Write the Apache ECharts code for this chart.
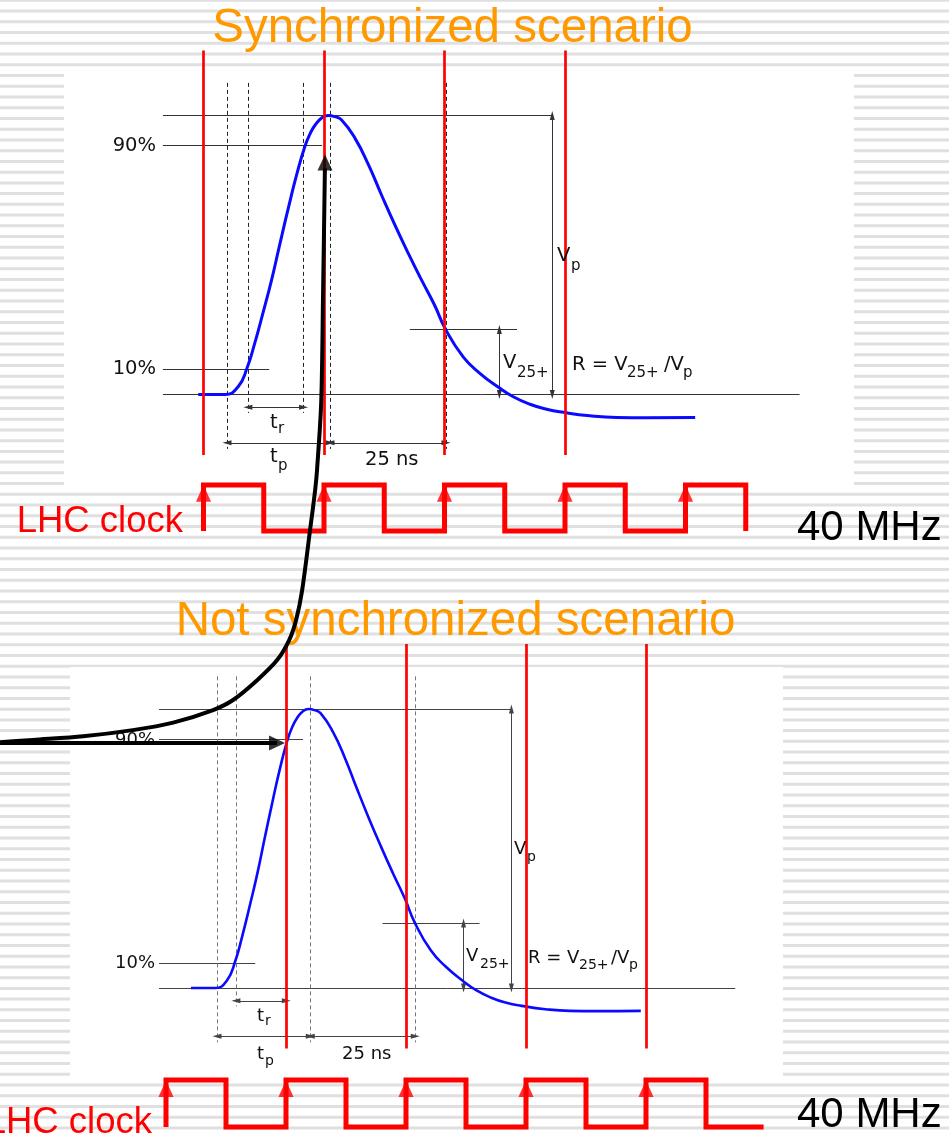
<!DOCTYPE html>
<html><head><meta charset="utf-8">
<script src="https://cdn.jsdelivr.net/npm/echarts@6/dist/echarts.min.js"></script>
<style>html,body{margin:0;padding:0;background:#fff}#c{width:949px;height:1135px}</style>
</head><body><div id="c"></div>
<script>
// ================= DATA =================
// Shaper pulse: time (ns from pulse start) and amplitude (fraction of Vp)
const pulseTime = [-6.2, -0.4, 2.4, 4.3, 6.0, 7.8, 9.6, 11.4, 13.2, 15.0, 16.8, 18.0, 19.0, 20.4, 21.8, 23.2, 24.7, 27.6, 30.5, 33.3, 36.2, 39.1, 42.0, 44.8, 47.0, 50.9, 54.5, 58.5, 61.7, 65.3, 68.9, 72.5, 78.2, 84.0, 90.5, 100.9];
const pulseAmp  = [0, 0, 0.028, 0.094, 0.185, 0.295, 0.41, 0.54, 0.667, 0.787, 0.89, 0.938, 0.966, 0.991, 1.0, 0.996, 0.984, 0.918, 0.823, 0.715, 0.607, 0.505, 0.408, 0.318, 0.237, 0.135, 0.076, 0.026, -0.008, -0.035, -0.053, -0.064, -0.076, -0.082, -0.083, -0.082];

// Horizontal reference levels: peak, 90%, 10%, baseline, V25+
const levelAmp  = [1.0, 0.893, 0.09, 0.0, 0.233];
const levelFrom = [-13.8, -13.8, -13.8, -13.8, 39.4];
const levelTo   = [70.1, 20.5, 9.1, 123.4, 62.5];

// Dashed time markers: start, 10%, 90%, peak, peak+25 ns
const markerTime   = [0, 4.5, 16.5, 22.2, 47.2];
const markerTop    = [1.117, 1.117, 1.117, 1.117, 1.117];
const markerBottom = [-0.195, -0.066, -0.066, -0.195, -0.195];

// Dimension arrows: tr, tp, 25 ns, Vp, V25+
const dimTimeFrom = [4.5, 0, 22.2, 70.1, 58.7];
const dimTimeTo   = [16.5, 22.2, 47.2, 70.1, 58.7];
const dimAmpFrom  = [-0.046, -0.173, -0.173, 1.0, 0.233];
const dimAmpTo    = [-0.046, -0.173, -0.173, 0.0, 0.0];

// LHC clock (ns)
const clockRisingEdges = [0, 25, 50, 75, 100];
const clockHighTime = 12.5;
const topClockEnd = 112.5;
const bottomClockEnd = 124.5;
const clockArrowLevel = 0.82;
const topSampleTimes = [0, 25, 50, 75];
const bottomSampleTimes = [25, 50, 75, 100];
const sampleAmpRange = [-0.217, 1.233];

// Black connector curve (top-panel units) and horizontal arrow (bottom-panel units)
const connTime = [-50, -41.8, -31.0, -20.3, -11.6, -3.0, 1.3, 6.5, 10.8, 13.4, 14.9, 16.2, 17.9, 19.0, 19.4, 20.3, 20.7, 21.1];
const connAmp  = [-1.248, -1.238, -1.225, -1.203, -1.176, -1.131, -1.095, -1.024, -0.952, -0.880, -0.808, -0.701, -0.486, -0.342, -0.271, -0.030, 0.357, 0.81];
const connHead = [21.12, 0.8315];
const hArrowTime = [-53, 14.3];
const hArrowAmp = 0.878;

// ================= LAYOUT =================
const W = 949, H = 1135;
const TOP = {clockX0: 203.5, clockS: 4.82, pulseX0: 227, pulseS: 4.64, ampY0: 394.5, ampS: 279, lvlY0: 531, lvlS: 46};
const BOT = {clockX0: 166,   clockS: 4.8,  pulseX0: 217, pulseS: 4.2,  ampY0: 988,   ampS: 279, lvlY0: 1127, lvlS: 47};

function xAx(g, x0, s) { return {type: 'value', gridIndex: g, min: -x0 / s, max: (W - x0) / s, show: false}; }
function yAx(g, y0, s) { return {type: 'value', gridIndex: g, min: (y0 - H) / s, max: y0 / s, show: false}; }

const xAxis = [], yAxis = [];
[TOP, BOT].forEach((P, g) => {
  xAxis.push(xAx(g, P.clockX0, P.clockS), xAx(g, P.pulseX0, P.pulseS));
  yAxis.push(yAx(g, P.ampY0, P.ampS), yAx(g, P.lvlY0, P.lvlS));
});

function clockWave(end) {
  const pts = [];
  clockRisingEdges.forEach(e => {
    pts.push([e, 0], [e, 1], [e + clockHighTime, 1], [e + clockHighTime, 0]);
  });
  if (end > pts[pts.length - 1][0]) pts.push([end, 0]);
  return pts;
}

function linesSeries(xi, yi, data, style, extra) {
  return Object.assign({
    type: 'lines', coordinateSystem: 'cartesian2d', xAxisIndex: xi, yAxisIndex: yi,
    silent: true, symbol: ['none', 'none'], z: 3,
    lineStyle: Object.assign({opacity: 1, curveness: 0}, style), data
  }, extra || {});
}

function panelSeries(g, st) {
  const xc = 2 * g, xp = 2 * g + 1, ya = 2 * g, yl = 2 * g + 1;
  const s = [];
  s.push(linesSeries(xp, ya, levelAmp.map((v, i) => ({coords: [[levelFrom[i], v], [levelTo[i], v]]})),
    {color: st.line, width: 1}));
  s.push(linesSeries(xp, ya, markerTime.map((t, i) => ({coords: [[t, markerTop[i]], [t, markerBottom[i]]]})),
    {color: st.dash, width: 1, type: [4, 3]}));
  s.push(linesSeries(xp, ya, dimTimeFrom.map((t, i) => ({coords: [[t, dimAmpFrom[i]], [dimTimeTo[i], dimAmpTo[i]]]})),
    {color: st.line, width: 1},
    {symbol: ['triangle', 'triangle'], symbolSize: [[5, 9], [5, 9]], symbolOffset: [[0, 4.5], [0, 4.5]]}));
  s.push({type: 'line', xAxisIndex: xp, yAxisIndex: ya, silent: true, z: 4,
    data: pulseTime.map((t, i) => [t, pulseAmp[i]]), smooth: 0.5, showSymbol: false, symbol: 'none',
    lineStyle: {color: '#0a0aff', width: st.pulseW}, clip: false});
  s.push(linesSeries(xc, ya, st.samples.map(t => ({coords: [[t, sampleAmpRange[0]], [t, sampleAmpRange[1]]]})),
    {color: '#ff0000', width: 2.7}, {z: 5}));
  s.push({type: 'line', xAxisIndex: xc, yAxisIndex: yl, silent: true, z: 5, data: clockWave(st.clockEnd),
    showSymbol: false, symbol: 'none', clip: false,
    lineStyle: {color: '#ff0000', width: 5, join: 'miter', cap: 'butt'}});
  s.push({type: 'scatter', xAxisIndex: xc, yAxisIndex: yl, silent: true, z: 5, symbol: 'triangle',
    symbolSize: [15, 17], itemStyle: {color: '#ff0000'}, clip: false,
    data: clockRisingEdges.map(e => [e, clockArrowLevel])});
  return s;
}

const series = [].concat(
  panelSeries(0, {line: '#333', dash: '#222', pulseW: 3, samples: topSampleTimes, clockEnd: topClockEnd}),
  panelSeries(1, {line: '#444', dash: '#777', pulseW: 2.6, samples: bottomSampleTimes, clockEnd: bottomClockEnd}),
  [
    {type: 'line', xAxisIndex: 1, yAxisIndex: 0, silent: true, z: 10, smooth: 0.3, clip: false,
     data: connTime.map((t, i) => [t, connAmp[i]]), showSymbol: false, symbol: 'none',
     lineStyle: {color: '#000', width: 4}},
    {type: 'scatter', xAxisIndex: 1, yAxisIndex: 0, silent: true, z: 10, symbol: 'triangle', clip: false,
     symbolSize: [15, 16], itemStyle: {color: '#000'}, data: [connHead]},
    {type: 'line', xAxisIndex: 3, yAxisIndex: 2, silent: true, z: 10, clip: false,
     data: [[hArrowTime[0], hArrowAmp], [hArrowTime[1], hArrowAmp]], showSymbol: false, symbol: 'none',
     lineStyle: {color: '#000', width: 4}},
    {type: 'scatter', xAxisIndex: 3, yAxisIndex: 2, silent: true, z: 10, symbol: 'triangle', clip: false,
     symbolSize: [15, 16], symbolRotate: -90, itemStyle: {color: '#000'}, data: [[hArrowTime[1], hArrowAmp]]}
  ]
);

// ================= DECORATION & TEXT =================
const graphics = [];
for (let k = 0; 0.3 + 10.74 * k - 1.5 < H; k++) {
  graphics.push({type: 'rect', z: 0, silent: true, shape: {x: 0, y: 0.3 + 10.74 * k - 1.5, width: W, height: 3}, style: {fill: '#e0e0e0'}});
}
graphics.push({type: 'rect', z: 0, silent: true, shape: {x: 64, y: 72, width: 790, height: 418}, style: {fill: '#fff'}});
graphics.push({type: 'rect', z: 0, silent: true, shape: {x: 70, y: 667, width: 713, height: 411}, style: {fill: '#fff'}});

const DJ = '"DejaVu Sans", Verdana, sans-serif';
const AR = '"Liberation Sans", Arial, Helvetica, sans-serif';
function T(text, x, y, size, opts) {
  opts = opts || {};
  const fam = opts.family || DJ;
  const dy = (fam === AR ? 0.1 : 0.05) * size;
  graphics.push({type: 'text', z: 6, silent: true, x, y: y + dy, style: {
    text, font: size + 'px ' + fam, fill: opts.color || '#111',
    align: opts.align || 'left', textAlign: opts.align || 'left',
    verticalAlign: 'middle', textVerticalAlign: 'middle'}});
}
// titles
T('Synchronized scenario', 452.5, 24, 47.5, {family: AR, color: '#ff9900', align: 'center'});
T('Not synchronized scenario', 455.5, 617, 47.5, {family: AR, color: '#ff9900', align: 'center'});
// clock labels
T('LHC clock', 183, 518, 36.5, {family: AR, color: '#ff0000', align: 'right'});
T('LHC clock', 152, 1119, 36.5, {family: AR, color: '#ff0000', align: 'right'});
T('40 MHz', 797, 524, 42, {family: AR, color: '#000'});
T('40 MHz', 797, 1111, 42, {family: AR, color: '#000'});
// top panel labels
(function () {
  const m = 19.5, s = 15;
  T('90%', 156, 145, m, {align: 'right'});
  T('10%', 156, 368, m, {align: 'right'});
  T('V', 557, 255, m); T('p', 571, 265, s);
  T('V', 503, 362, m); T('25+', 517, 372.5, s);
  T('R = V', 572, 364, m); T('25+', 627, 372.5, s); T('/V', 664, 364, m); T('p', 683, 372.5, s);
  T('t', 270, 422, m); T('r', 278, 428, s);
  T('t', 270, 456, m); T('p', 278, 465, s);
  T('25 ns', 365, 459, m);
})();
// bottom panel labels
(function () {
  const m = 18, s = 14;
  T('90%', 155, 739, m, {align: 'right'});
  T('10%', 155, 962, m, {align: 'right'});
  T('V', 514, 848, m); T('p', 527, 857, s);
  T('V', 466, 955, m); T('25+', 480, 964, s);
  T('R = V', 528, 957, m); T('25+', 579, 965, s); T('/V', 611, 957, m); T('p', 629, 965, s);
  T('t', 257, 1015, m); T('r', 265, 1021, s);
  T('t', 257, 1053, m); T('p', 265, 1061, s);
  T('25 ns', 342, 1053, m);
})();

const chart = echarts.init(document.getElementById('c'), null, {renderer: 'canvas'});
chart.setOption({
  animation: false,
  backgroundColor: '#fff',
  grid: [{left: 0, top: 0, width: W, height: H}, {left: 0, top: 0, width: W, height: H}],
  xAxis, yAxis, series, graphic: graphics
});
</script>
</body></html>
